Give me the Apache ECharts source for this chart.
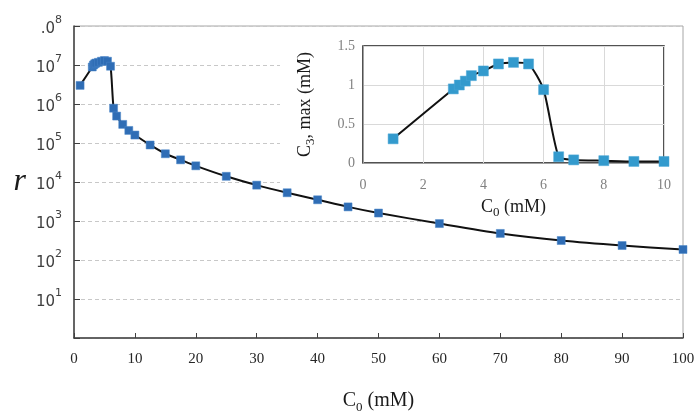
<!DOCTYPE html>
<html>
<head>
<meta charset="utf-8">
<script src="https://cdn.jsdelivr.net/npm/echarts@6/dist/echarts.min.js"></script>
<style>
  html, body { margin: 0; padding: 0; background: #fff; }
  #main { width: 699px; height: 416px; }
</style>
</head>
<body>
<div id="main"></div>
<script>
// main plot: r vs C0
const mainC0 = [1, 3, 3.2, 3.4, 3.6, 4, 4.5, 5, 5.5, 6, 6.5, 7, 8, 9, 10,
  12.5, 15, 17.5, 20, 25, 30, 35, 40, 45, 50, 60, 70, 80, 90, 100];
const mainR = [3.0e6, 8.9e6, 1.0e7, 1.07e7, 1.12e7, 1.17e7, 1.25e7, 1.3e7, 1.25e7, 9.3e6,
  7.8e5, 4.9e5, 3.0e5, 2.1e5, 1.6e5,
  8.9e4, 5.3e4, 3.7e4, 2.6e4, 1.4e4, 8.3e3, 5.3e3, 3.5e3, 2.3e3, 1.6e3,
  860, 480, 316, 235, 186];

// inset: C3,max vs C0
const insetC0 = [1, 3, 3.2, 3.4, 3.6, 4, 4.5, 5, 5.5, 6, 6.5, 7, 8, 9, 10];
const insetC3 = [0.31, 0.95, 1.0, 1.05, 1.12, 1.18, 1.27, 1.29, 1.27, 0.94, 0.08, 0.04, 0.03, 0.02, 0.02];

const serif = "'Liberation Serif', 'DejaVu Serif', serif";
const sans = "'DejaVu Sans', sans-serif";

const pairs = (xs, ys) => xs.map((x, i) => [x, ys[i]]);

let chartDom = document.getElementById("main");
let myChart = echarts.init(chartDom);
let option = {
  animation: false,
  backgroundColor: "#fff",
  graphic: [
    { type: "rect", z: 1, shape: { x: 280, y: 27, width: 402, height: 174 }, style: { fill: "#fff" } },
    { type: "rect", z: 1, shape: { x: 434, y: 200, width: 248, height: 26 }, style: { fill: "#fff" } },
  ],
  grid: [
    { left: 74, right: 16, top: 26, bottom: 78, outerBoundsMode: "none", show: true, borderColor: "#a6a6a6", borderWidth: 1 },
    { left: 363, top: 46, width: 301, height: 117, outerBoundsMode: "none", show: true, borderColor: "#1a1a1a", borderWidth: 1.5, z: 3 },
  ],
  xAxis: [
    {
      type: "value",
      min: 0,
      max: 100,
      interval: 10,
      name: "{a|C}{b|0}{a| (mM)}",
      nameLocation: "middle",
      nameGap: 50,
      nameTextStyle: {
        rich: {
          a: { fontFamily: serif, fontSize: 20, color: "#1a1a1a", lineHeight: 26, verticalAlign: "middle" },
          b: { fontFamily: serif, fontSize: 13, color: "#1a1a1a", lineHeight: 26, verticalAlign: "bottom" },
        },
      },
      axisLine: { lineStyle: { color: "#404040", width: 1.5 } },
      axisTick: { inside: true, length: 5, lineStyle: { color: "#404040" } },
      axisLabel: { fontFamily: serif, fontSize: 15, color: "#262626", margin: 14 },
      splitLine: { show: false },
    },
    {
      type: "value",
      gridIndex: 1,
      min: 0,
      max: 10,
      interval: 2,
      z: 3,
      name: "{a|C}{b|0}{a| (mM)}",
      nameLocation: "middle",
      nameGap: 32,
      nameTextStyle: {
        rich: {
          a: { fontFamily: serif, fontSize: 18, color: "#1a1a1a", lineHeight: 24, verticalAlign: "middle" },
          b: { fontFamily: serif, fontSize: 13, color: "#1a1a1a", lineHeight: 24, verticalAlign: "bottom" },
        },
      },
      axisLine: { lineStyle: { color: "#a0a0a0" } },
      axisTick: { show: false },
      axisLabel: { fontFamily: serif, fontSize: 14, color: "#808080", margin: 15 },
      splitLine: { show: true, lineStyle: { color: "#d9d9d9", width: 1 } },
    },
  ],
  yAxis: [
    {
      type: "log",
      logBase: 10,
      min: 1,
      max: 1e8,
      name: "r",
      nameLocation: "middle",
      nameGap: 48,
      nameRotate: 0,
      nameTextStyle: { fontFamily: serif, fontStyle: "italic", fontSize: 32, color: "#1a1a1a" },
      axisLine: { lineStyle: { color: "#404040", width: 1.5 } },
      axisTick: { inside: true, length: 6, lineStyle: { color: "#404040" } },
      axisLabel: {
        margin: 12,
        formatter: function (v) {
          const e = Math.round(Math.log10(v));
          if (e === 0) return "";
          return (e === 8 ? "{a|.0}" : "{a|10}") + "{b|" + e + "}";
        },
        rich: {
          a: { fontFamily: sans, fontSize: 15, color: "#404040", lineHeight: 22, verticalAlign: "bottom" },
          b: { fontFamily: sans, fontSize: 11, color: "#404040", lineHeight: 22, verticalAlign: "top" },
        },
      },
      splitLine: { show: true, lineStyle: { color: "#c8c8c8", type: [4, 3], width: 1 } },
    },
    {
      type: "value",
      gridIndex: 1,
      min: 0,
      max: 1.5,
      interval: 0.5,
      z: 3,
      name: "{a|C}{b|3}{a|, max (mM)}",
      nameLocation: "middle",
      nameGap: 46,
      nameRotate: 90,
      nameTextStyle: {
        rich: {
          a: { fontFamily: serif, fontSize: 18, color: "#1a1a1a", lineHeight: 24, verticalAlign: "middle" },
          b: { fontFamily: serif, fontSize: 13, color: "#1a1a1a", lineHeight: 24, verticalAlign: "bottom" },
        },
      },
      axisLine: { show: true, lineStyle: { color: "#a0a0a0" } },
      axisTick: { show: false },
      axisLabel: { fontFamily: serif, fontSize: 14, color: "#808080", margin: 8 },
      splitLine: { show: true, lineStyle: { color: "#d9d9d9", width: 1 } },
    },
  ],
  series: [
    {
      name: "r",
      type: "line",
      xAxisIndex: 0,
      yAxisIndex: 0,
      z: 2,
      smooth: 0.25,
      symbol: "rect",
      symbolSize: 8,
      lineStyle: { color: "#111", width: 2 },
      itemStyle: { color: "#2f6db5", borderColor: "#4a86c8", borderWidth: 0.5 },
      data: pairs(mainC0, mainR),
    },
    {
      name: "C3max",
      type: "line",
      xAxisIndex: 1,
      yAxisIndex: 1,
      z: 4,
      smooth: 0.2,
      symbol: "rect",
      symbolSize: 10,
      lineStyle: { color: "#111", width: 2 },
      itemStyle: { color: "#339acd", borderColor: "#4aa6d6", borderWidth: 0.5 },
      data: pairs(insetC0, insetC3),
    },
  ],
};
option && myChart.setOption(option);
</script>
</body>
</html>
